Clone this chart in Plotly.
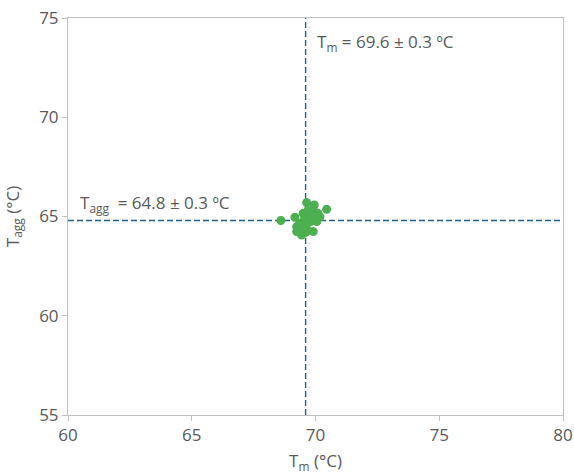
import plotly.graph_objects as go

# data
tm = [68.6, 69.64, 69.95, 70.45, 69.17, 69.5, 70.18, 69.8, 70.05, 69.24, 69.24, 69.44,
      69.91, 69.64, 69.37, 69.8, 69.55, 70.1, 69.3, 69.7, 69.45, 69.85, 70.0, 69.6]
tagg = [64.8, 65.7, 65.58, 65.36, 64.96, 65.16, 64.99, 65.07, 64.74, 64.49, 64.24, 64.07,
        64.24, 64.4, 64.65, 64.75, 64.85, 65.15, 64.35, 65.3, 64.55, 64.95, 65.2, 64.2]
tm_mean, tm_sd = 69.6, 0.3
tagg_mean, tagg_sd = 64.8, 0.3
x_range = [60, 80]
y_range = [55, 75]
x_ticks = [60, 65, 70, 75, 80]
y_ticks = [55, 60, 65, 70, 75]

gray = "#595959"
axis_col = "#bfbfbf"
dash_col = "#1f5f8b"
font = "Open Sans, Verdana, sans-serif"
fs = 17

fig = go.Figure()
fig.add_trace(go.Scatter(x=[tm_mean, tm_mean], y=y_range, mode="lines",
                         line=dict(color=dash_col, width=1.4, dash="6px,3px"), showlegend=False, hoverinfo="skip"))
fig.add_trace(go.Scatter(x=x_range, y=[tagg_mean, tagg_mean], mode="lines",
                         line=dict(color=dash_col, width=1.4, dash="6px,3px"), showlegend=False, hoverinfo="skip"))
fig.add_trace(go.Scatter(x=tm, y=tagg, mode="markers",
                         marker=dict(color="#4caf50", size=9, line=dict(width=0)),
                         showlegend=False))

fig.add_annotation(x=tm_mean, y=75, xref="x", yref="y", xanchor="left", yanchor="top",
                   xshift=9, yshift=-10, showarrow=False,
                   text=f"T<sub>m</sub> = {tm_mean} ± {tm_sd} ºC", font=dict(size=fs, color=gray, family=font))
fig.add_annotation(x=60, y=tagg_mean, xref="x", yref="y", xanchor="left", yanchor="bottom",
                   xshift=10, yshift=2, showarrow=False,
                   text=f"T<sub>agg</sub>  = {tagg_mean} ± {tagg_sd} ºC", font=dict(size=fs, color=gray, family=font))

axis_common = dict(showgrid=False, zeroline=False, showline=True, linecolor=axis_col, linewidth=1,
                   mirror=True, ticks="outside", ticklen=5, tickcolor=axis_col,
                   tickfont=dict(size=fs, color=gray, family=font))
fig.update_xaxes(range=x_range, tickvals=x_ticks, automargin=False,
                 title=dict(text="T<sub>m</sub> (°C)", font=dict(size=fs, color=gray, family=font)), **axis_common)
fig.update_yaxes(range=y_range, tickvals=y_ticks, automargin=False,
                 title=dict(text="T<sub>agg</sub> (°C)", font=dict(size=fs, color=gray, family=font)), **axis_common)

fig.update_layout(width=574, height=474, margin=dict(l=68, r=11, t=18, b=59),
                  plot_bgcolor="white", paper_bgcolor="white")
fig.write_html("out.html", config={"displayModeBar": False},
               post_script="document.body.style.margin='0';")
